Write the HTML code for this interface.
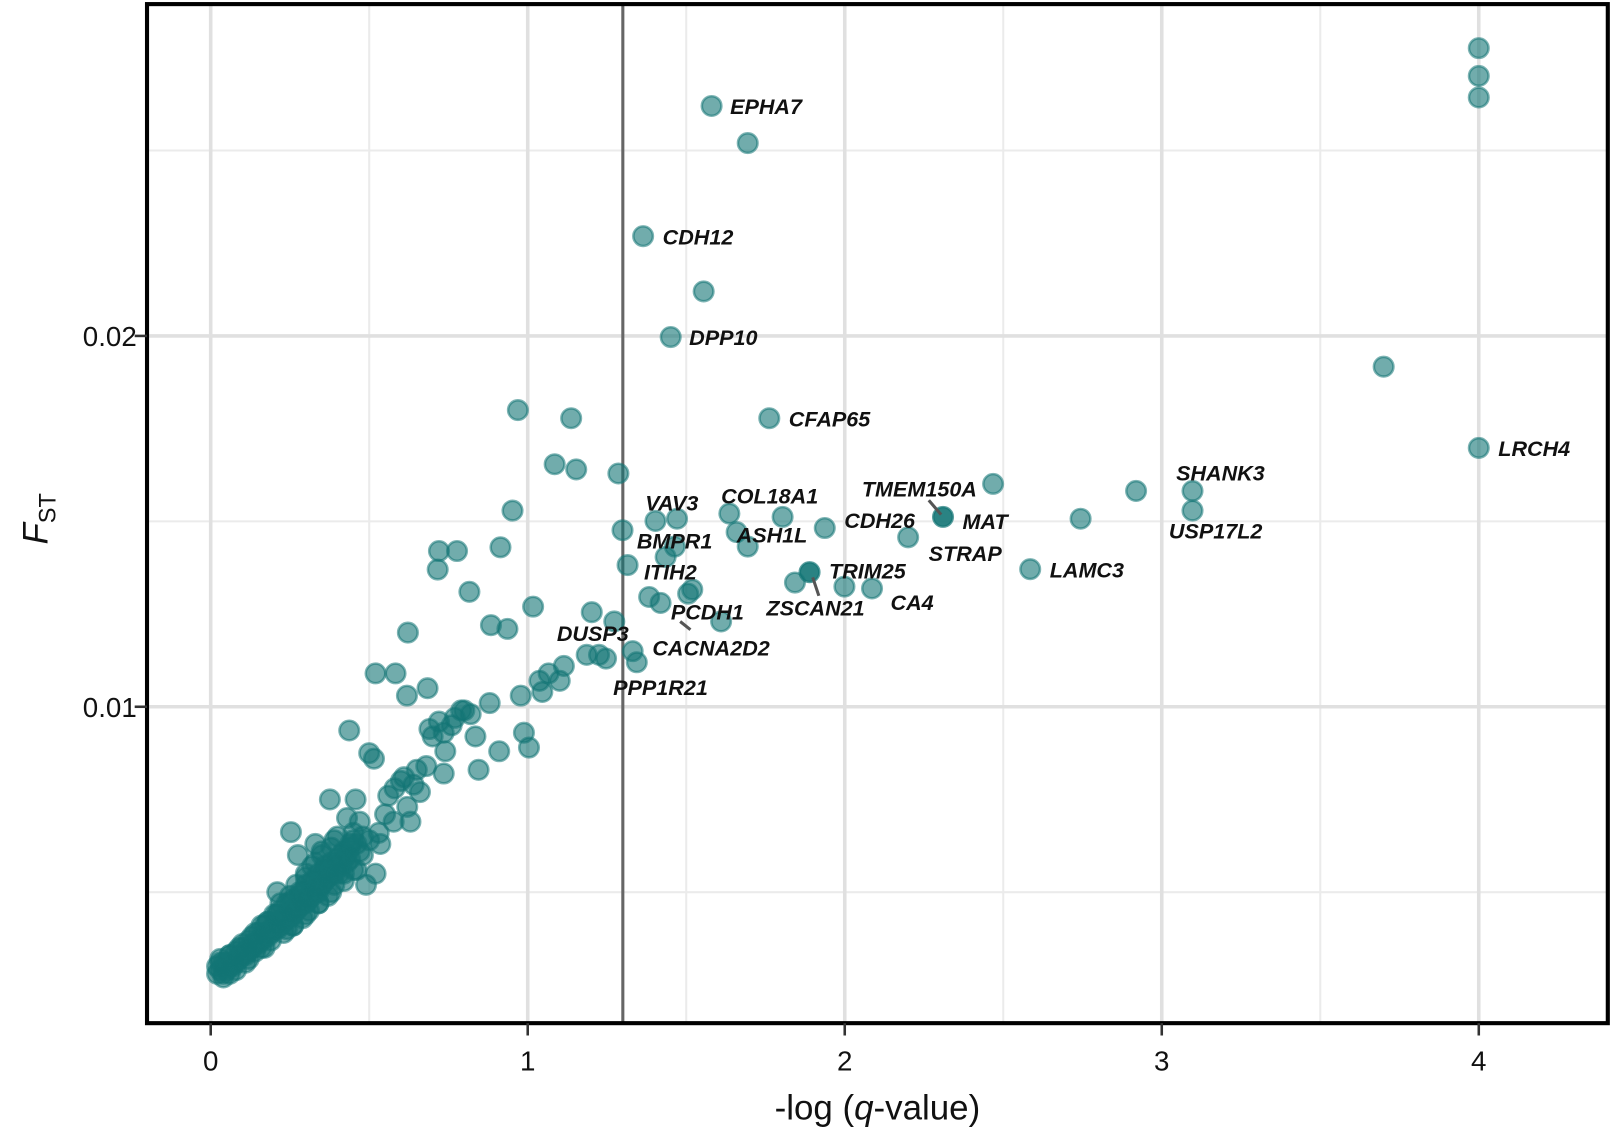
<!DOCTYPE html>
<html><head><meta charset="utf-8">
<style>
html,body{margin:0;padding:0;background:#fff;}
svg{display:block;}
text{font-family:"Liberation Sans",Arial,sans-serif;}
.lab{font-style:italic;font-weight:bold;font-size:21px;fill:#111;}
.tick{font-size:27px;fill:#111;}
</style></head>
<body>
<svg id="chart" width="1611" height="1130" viewBox="0 0 1568 1100" xmlns="http://www.w3.org/2000/svg">
<g id="grid"></g>
<g id="points"></g>
<g id="labels"></g>
<g id="axes"></g>
</svg>
<script>
const xTicks=[0,1,2,3,4];
const xMinor=[0.5,1.5,2.5,3.5];
const yTicks=[0.01,0.02];
const yTickLabels=["0.01","0.02"];
const yMinor=[0.005,0.015,0.025];
const threshold=1.3;
const xs=[4,4,4,1.58,1.694,1.364,1.555,1.451,3.70,1.762,4.0,0.969,1.137,1.085,1.153,1.286,2.468,2.919,3.097,3.097,0.952,2.744,1.636,1.804,1.937,2.2,1.299,1.403,1.471,1.659,1.694,1.464,1.435,1.315,2.585,1.843,1.999,2.086,1.519,1.506,1.383,1.419,1.61,1.202,1.273,1.331,1.344,1.186,1.247,1.225,
1.017,0.884,0.936,0.622,0.52,0.583,0.684,0.619,0.978,1.037,1.066,1.114,1.101,1.046,0.988,1.004,0.91,0.845,0.735,0.72,0.777,0.716,0.816,0.914,
0.253,0.376,0.21,0.275,0.437,0.50,0.515,0.457,0.47,0.56,0.62,0.63,0.60,0.65,0.70,0.735,0.77,0.80,0.835,0.88,0.66,0.52,0.49,0.405,0.34,0.577,0.535,0.76,0.69,0.72,0.82,0.79,0.68,0.58,0.55,0.45,0.43,0.39,0.48,0.61,0.64,0.74,
0.02,0.03,0.04,0.05,0.06,0.02,0.03,0.05,0.07,0.08,0.04,0.06,0.09,0.10,0.11,0.12,0.10,0.13,0.14,0.15,0.16,0.17,0.18,0.15,0.19,0.20,0.21,0.22,0.18,0.23,0.24,0.25,0.21,0.26,0.27,0.22,0.28,0.29,0.30,0.25,0.31,0.32,0.33,0.27,0.34,0.35,0.30,0.36,0.37,0.38,0.32,0.39,0.40,0.41,0.35,0.42,0.43,0.38,0.44,0.46,0.40,0.48,0.33,
0.12,0.14,0.16,0.19,0.23,0.26,0.29,0.31,0.34,0.37,0.08,0.11,0.17,0.24,0.28,0.36,0.39,0.42,0.30,0.33,0.35,0.45,0.47,0.50,0.53,
0.05,0.07,0.09,0.11,0.13,0.15,0.17,0.19,0.21,0.23,0.25,0.27,0.29,0.31,0.33,0.35,0.37,0.39,0.41,0.43,
0.06,0.08,0.10,0.12,0.14,0.16,0.18,0.20,0.22,0.24,0.26,0.28,0.30,0.32,0.34,0.36,0.38,0.40,0.42,0.44,
0.04,0.03,0.06,0.09,0.13,0.17,0.21,0.25,0.29,0.33,0.37,0.41,0.45,0.26,0.30,0.34,0.38,0.42,0.46,0.44];
const ys=[0.02776,0.02701,0.02643,0.0262,0.0252,0.02269,0.0212,0.01997,0.01917,0.01778,0.01698,0.0180,0.01778,0.01654,0.0164,0.01629,0.01601,0.01582,0.01582,0.01529,0.01529,0.01507,0.01521,0.01512,0.01482,0.01457,0.01476,0.01501,0.01507,0.01471,0.01432,0.01432,0.01404,0.01382,0.01371,0.01335,0.01324,0.01319,0.01316,0.01305,0.01296,0.0128,0.0123,0.01255,0.0123,0.0115,0.0112,0.0114,0.0113,0.0114,
0.0127,0.0122,0.0121,0.0120,0.0109,0.0109,0.0105,0.0103,0.0103,0.0107,0.0109,0.0111,0.0107,0.0104,0.0093,0.0089,0.0088,0.0083,0.0082,0.0142,0.0142,0.0137,0.0131,0.0143,
0.00662,0.0075,0.0050,0.0060,0.00936,0.00875,0.0086,0.0075,0.0069,0.0076,0.0073,0.0069,0.0080,0.0083,0.0092,0.0093,0.0097,0.0099,0.0092,0.0101,0.0077,0.0055,0.0052,0.0055,0.0050,0.0069,0.0063,0.0095,0.0094,0.0096,0.0098,0.0099,0.0084,0.0078,0.0071,0.0066,0.0070,0.0064,0.0060,0.0081,0.0079,0.0088,
0.0028,0.0029,0.0028,0.0029,0.0030,0.0030,0.0031,0.0031,0.0030,0.0031,0.0027,0.0028,0.0032,0.0033,0.0033,0.0034,0.0035,0.0035,0.0036,0.0036,0.0037,0.0038,0.0038,0.0039,0.0039,0.0040,0.0040,0.0041,0.0042,0.0042,0.0043,0.0043,0.0044,0.0044,0.0045,0.0047,0.0046,0.0047,0.0047,0.0049,0.0048,0.0049,0.0050,0.0052,0.0051,0.0052,0.0054,0.0053,0.0054,0.0055,0.0057,0.0056,0.0057,0.0058,0.0060,0.0059,0.0060,0.0062,0.0062,0.0063,0.0065,0.0065,0.0063,
0.0032,0.0034,0.0035,0.0037,0.0039,0.0041,0.0043,0.0045,0.0047,0.0049,0.0029,0.0031,0.0035,0.0040,0.0049,0.0057,0.0052,0.0055,0.0055,0.0058,0.0061,0.0056,0.0061,0.0064,0.0066,
0.0030,0.0031,0.0033,0.0034,0.0036,0.0037,0.0039,0.0040,0.0042,0.0043,0.0045,0.0046,0.0048,0.0049,0.0051,0.0052,0.0054,0.0055,0.0057,0.0058,
0.0033,0.0034,0.0036,0.0037,0.0039,0.0041,0.0042,0.0044,0.0045,0.0047,0.0048,0.0050,0.0052,0.0053,0.0055,0.0056,0.0058,0.0059,0.0061,0.0063,
0.0031,0.0032,0.0033,0.0035,0.0038,0.0041,0.0044,0.0047,0.0050,0.0053,0.0056,0.0060,0.0064,0.0041,0.0044,0.0047,0.0050,0.0053,0.0056,0.0059];
const darkX=[2.31,1.889];
const darkY=[0.01512,0.01363];
const labNames=["EPHA7","CDH12","DPP10","CFAP65","LRCH4","SHANK3","USP17L2","TMEM150A","MAT","CDH26","STRAP","LAMC3","VAV3","COL18A1","BMPR1","ASH1L","ITIH2","TRIM25","PCDH1","ZSCAN21","CA4","DUSP3","CACNA2D2","PPP1R21"];
const labX=[1.58,1.364,1.451,1.762,4.0,3.097,3.097,2.31,2.31,1.937,2.2,2.585,1.403,1.636,1.435,1.659,1.315,1.889,1.419,1.889,2.086,1.202,1.419,1.344];
const labY=[0.0262,0.02269,0.01997,0.01778,0.01698,0.01582,0.01529,0.01512,0.01512,0.01482,0.01457,0.01371,0.01501,0.01521,0.01404,0.01471,0.01382,0.01363,0.0128,0.01363,0.01319,0.01255,0.0128,0.0112];
const labDX=[18,19,18,19,19,-16,-23,-79,19,19,20,19,-10,-8,-28,0,16,19,10,-42,18,-34,-8,-23];
const labDY=[8,8,8,8,8,-10,27,-20,12,0,23,8,-10,-10,-8,10,14,6,16,42,21,28,51,32];
const leaders=[[904,487,916,501],[791,562,797,580],[662,605,672,613]];

const X0=143,X1=1565,Y0=4,Y1=996;
const sx=v=>205+v*308.6;
const sy=v=>688-(v-0.01)*36100;
const NS="http://www.w3.org/2000/svg";
function mk(tag,attrs,parent){const e=document.createElementNS(NS,tag);for(const k in attrs)e.setAttribute(k,attrs[k]);parent.appendChild(e);return e;}
const grid=document.getElementById('grid');
xMinor.forEach(v=>{const l=mk('line',{x1:sx(v),x2:sx(v),y1:Y0,y2:Y1,stroke:'#ebebeb','stroke-width':2},grid);

});
yMinor.forEach(v=>{const l=mk('line',{x1:X0,x2:X1,y1:sy(v),y2:sy(v),stroke:'#ebebeb','stroke-width':2},grid);

});
xTicks.forEach(v=>{const l=mk('line',{x1:sx(v),x2:sx(v),y1:Y0,y2:Y1,stroke:'#e0e0e0','stroke-width':3.5},grid);

});
yTicks.forEach(v=>{const l=mk('line',{x1:X0,x2:X1,y1:sy(v),y2:sy(v),stroke:'#e0e0e0','stroke-width':3.5},grid);

});
const th=mk('line',{x1:sx(threshold),x2:sx(threshold),y1:Y0,y2:Y1,stroke:'#666','stroke-width':3},grid);



const pts=document.getElementById('points');
for(let i=0;i<xs.length;i++){
 const c=mk('circle',{cx:sx(xs[i]),cy:sy(ys[i]),r:9.5,fill:'rgba(19,117,117,0.6)',stroke:'rgba(19,117,117,0.55)','stroke-width':2.5},pts);
 
 
}
for(let i=0;i<darkX.length;i++){
 const c=mk('circle',{cx:sx(darkX[i]),cy:sy(darkY[i]),r:9.5,fill:'rgba(19,117,117,0.9)',stroke:'rgba(19,117,117,0.7)','stroke-width':2.5},pts);
 
 
}
const labs=document.getElementById('labels');
leaders.forEach(a=>{const l=mk('line',{x1:a[0],y1:a[1],x2:a[2],y2:a[3],stroke:'#555','stroke-width':3},labs);

});
for(let i=0;i<labNames.length;i++){
 const t=mk('text',{x:sx(labX[i])+labDX[i],y:sy(labY[i])+labDY[i],class:'lab'},labs);
 t.textContent=labNames[i];
 
 
}
const ax=document.getElementById('axes');
const fr=mk('rect',{x:X0,y:Y0,width:X1-X0,height:Y1-Y0,fill:'none',stroke:'#000','stroke-width':4},ax);


xTicks.forEach(v=>{
 const l=mk('line',{x1:sx(v),x2:sx(v),y1:Y1,y2:Y1+12,stroke:'#333','stroke-width':2.5},ax);
 
 
 const t=mk('text',{x:sx(v),y:1042,'text-anchor':'middle',class:'tick'},ax);
 t.textContent=String(v);
 
 
});
yTicks.forEach((v,i)=>{
 const l=mk('line',{x1:X0-12,x2:X0,y1:sy(v),y2:sy(v),stroke:'#333','stroke-width':2.5},ax);
 
 
 const t=mk('text',{x:X0-10,y:sy(v)+10,'text-anchor':'end',class:'tick'},ax);
 t.textContent=yTickLabels[i];
 
 
});
</script>
<svg style="position:absolute;left:0;top:0" width="1611" height="1130" viewBox="0 0 1568 1100">
<text x="854" y="1090" text-anchor="middle" font-size="34" fill="#111" font-family="Liberation Sans, sans-serif">-log (<tspan font-style="italic">q</tspan>-value)</text>
<text transform="translate(46,505) rotate(-90)" text-anchor="middle" font-size="34" fill="#111" font-family="Liberation Sans, sans-serif"><tspan font-style="italic">F</tspan><tspan font-size="23" dy="8">ST</tspan></text>
</svg>
</body></html>
